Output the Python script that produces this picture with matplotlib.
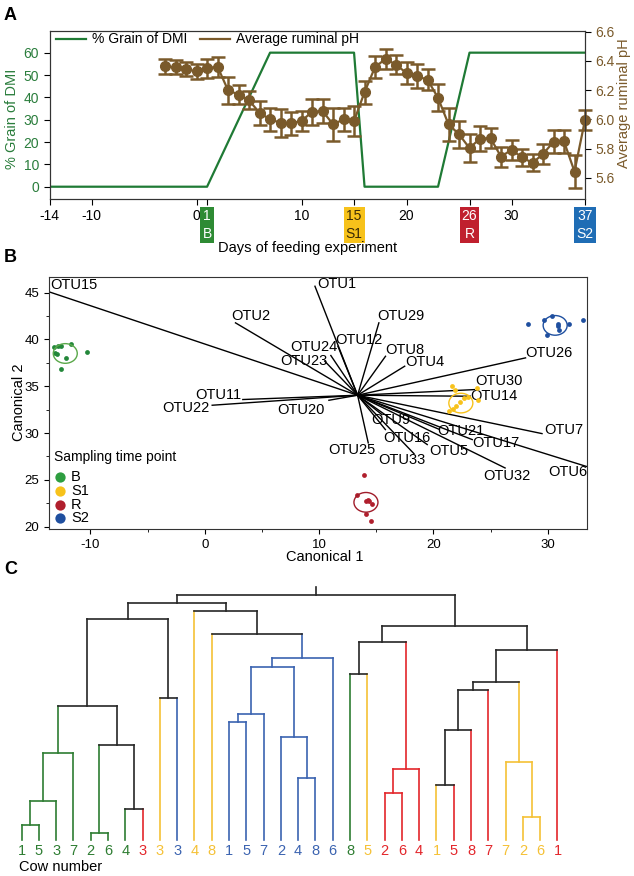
import matplotlib
matplotlib.use('Agg')
import matplotlib.pyplot as plt
from matplotlib.patches import Ellipse
from matplotlib.lines import Line2D
from matplotlib.transforms import blended_transform_factory
from matplotlib.ticker import MultipleLocator

plt.rcParams['font.family'] = ['Liberation Sans', 'DejaVu Sans']
plt.rcParams['axes.unicode_minus'] = False

# ---------------- panel A data ----------------
grain_days = [-14, 1, 7, 15, 16, 23, 26, 37]
grain_pct = [0, 0, 60, 60, 0, 0, 60, 60]
ph_days = list(range(-3, 38))
ph_mean = [6.362, 6.356, 6.344, 6.328, 6.351, 6.360, 6.199, 6.170, 6.130, 6.045,
           6.000, 5.977, 5.973, 5.989, 6.052, 6.057, 5.966, 6.000, 5.989, 6.186,
           6.358, 6.414, 6.374, 6.317, 6.295, 6.272, 6.147, 5.966, 5.898, 5.803,
           5.869, 5.871, 5.745, 5.792, 5.740, 5.702, 5.763, 5.846, 5.849, 5.643,
           5.996]
ph_err = [0.050, 0.048, 0.050, 0.050, 0.065, 0.070, 0.094, 0.065, 0.062, 0.081,
          0.079, 0.096, 0.079, 0.068, 0.090, 0.084, 0.113, 0.081, 0.104, 0.078,
          0.073, 0.066, 0.066, 0.073, 0.081, 0.070, 0.093, 0.115, 0.093, 0.096,
          0.088, 0.070, 0.068, 0.068, 0.059, 0.058, 0.066, 0.079, 0.076, 0.114,
          0.068]
sample_days = [1, 15, 26, 37]
sample_names = ['B', 'S1', 'R', 'S2']
box_colors = ['#2e8b34', '#f7c21b', '#c0202e', '#1f6db5']
box_text = ['white', '#3b2b05', 'white', 'white']

# ---------------- panel B data ----------------
groups = ['B', 'S1', 'R', 'S2']
grp_colors = {'B': '#23873a', 'S1': '#f7c21b', 'R': '#b01f2d', 'S2': '#1f4f9f'}
ring_colors = {'B': '#5aa84a', 'S1': '#f7c21b', 'R': '#a01c2a', 'S2': '#1f50a0'}
pts_x = {'B': [-13.2, -12.8, -12.6, -11.7, -13.1, -12.9, -12.1, -10.3, -12.6],
         'S1': [21.6, 21.9, 23.8, 23.9, 22.3, 22.0, 21.7, 21.4, 22.7, 23.0],
         'R': [13.9, 13.3, 14.1, 14.4, 14.6, 14.1, 14.5, 14.3],
         'S2': [28.3, 29.7, 30.4, 30.9, 31.0, 31.9, 33.1, 29.9, 30.9]}
pts_y = {'B': [39.2, 39.3, 39.3, 39.5, 38.5, 38.4, 38.0, 38.7, 36.8],
         'S1': [35.0, 34.6, 34.8, 33.5, 33.3, 32.9, 32.6, 32.4, 33.7, 33.9],
         'R': [25.5, 23.4, 22.7, 22.7, 22.4, 21.3, 20.6, 22.8],
         'S2': [41.7, 42.1, 42.5, 41.4, 41.05, 41.7, 42.05, 40.5, 41.6]}
ring_center = {'B': (-12.2, 38.5), 'S1': (22.4, 33.2), 'R': (14.1, 22.6), 'S2': (30.65, 41.5)}

origin = (13.37, 34.04)
otu_names = ['OTU15', 'OTU1', 'OTU2', 'OTU29', 'OTU12', 'OTU24', 'OTU23', 'OTU8', 'OTU4',
             'OTU26', 'OTU30', 'OTU14', 'OTU11', 'OTU22', 'OTU20', 'OTU9', 'OTU16', 'OTU33',
             'OTU25', 'OTU5', 'OTU21', 'OTU17', 'OTU32', 'OTU6', 'OTU7']
otu_x = [-13.9, 9.64, 2.69, 15.23, 11.65, 11.03, 10.5, 15.81, 17.49,
         28.06, 23.58, 23.23, 3.33, 0.65, 10.86, 15.5, 15.8, 18.3,
         14.3, 19.46, 20.5, 23.4, 26.27, 33.6, 29.5]
otu_y = [45.2, 45.68, 41.77, 41.77, 39.27, 38.28, 37.67, 38.2, 37.14,
         38.03, 34.64, 33.93, 33.58, 32.97, 33.5, 31.97, 30.37, 27.8,
         28.95, 28.77, 30.4, 29.3, 26.27, 26.35, 29.94]
label_x = [-13.5, 9.86, 2.33, 15.09, 11.4, 7.46, 6.63, 15.81, 17.56,
           28.06, 23.69, 23.23, 3.23, 0.39, 6.38, 14.55, 15.59, 15.16,
           10.79, 19.64, 20.36, 23.4, 24.4, 30.03, 29.68]
label_y = [45.86, 45.93, 42.48, 42.55, 39.9, 39.15, 37.7, 38.92, 37.56,
           38.56, 35.55, 33.95, 34.1, 32.69, 32.5, 31.37, 29.48, 27.09,
           28.16, 28.06, 30.19, 28.95, 25.4, 25.85, 30.3]
label_ha = ['left'] * 12 + ['right', 'right'] + ['left'] * 11

# ---------------- panel C data ----------------
cow = [1, 5, 3, 7, 2, 6, 4, 3, 3, 3, 4, 8, 1, 5, 7, 2, 4, 8, 6, 8, 5, 2, 6, 4, 1, 5, 8, 7, 7, 2, 6, 1]
leaf_grp = ['B', 'B', 'B', 'B', 'B', 'B', 'B', 'R', 'S1', 'S2', 'S1', 'S1', 'S2', 'S2', 'S2', 'S2',
            'S2', 'S2', 'S2', 'B', 'S1', 'R', 'R', 'R', 'S1', 'R', 'R', 'R', 'S1', 'S1', 'S1', 'R']
# (left node, right node, height, colour); nodes >= 32 are earlier merges
merges = [(0, 1, 45, 'B'), (32, 2, 117, 'B'), (33, 3, 260, 'B'), (4, 5, 22, 'B'),
          (6, 7, 93, 'k'), (35, 36, 284, 'k'), (34, 37, 402, 'k'), (8, 9, 427, 'k'),
          (38, 39, 664, 'k'), (12, 13, 354, 'S2'), (41, 14, 378, 'S2'), (16, 17, 187, 'S2'),
          (15, 43, 308, 'S2'), (42, 44, 520, 'S2'), (45, 18, 545, 'S2'), (11, 46, 618, 'k'),
          (10, 47, 688, 'k'), (40, 48, 712, 'k'), (19, 20, 497, 'k'), (21, 22, 142, 'R'),
          (51, 23, 212, 'R'), (50, 52, 593, 'k'), (24, 25, 165, 'k'), (54, 26, 330, 'k'),
          (55, 27, 450, 'k'), (29, 30, 69, 'S1'), (28, 57, 235, 'S1'), (56, 58, 474, 'k'),
          (59, 31, 569, 'k'), (53, 60, 641, 'k'), (49, 61, 736, 'k')]
root_top = 760
tree_colors = {'B': '#2e7d32', 'S1': '#f5c136', 'R': '#e3262b', 'S2': '#3b63b0', 'k': '#262626'}

green = '#1f7a35'
brown = '#7a5a2b'

fig = plt.figure(figsize=(6.34, 8.76), dpi=100)

# ================= A =================
ax1 = fig.add_axes([49.6 / 634, 1 - 199 / 876, 535.4 / 634, 168 / 876])
gl, = ax1.plot(grain_days, grain_pct, color=green, lw=1.6)
ax1.set_xlim(-14, 37)
ax1.set_ylim(-5.5, 69.7)
ax1.set_yticks([0, 10, 20, 30, 40, 50, 60])
ax1.tick_params(axis='y', labelcolor='#2a7d3c', labelsize=10, direction='out', length=4)
ax1.set_xticks([-14, -10, 0, 1, 10, 15, 20, 26, 30, 37])
ax1.set_xticklabels(['-14', '-10', '0', '', '10', '', '20', '', '30', ''])
ax1.tick_params(axis='x', labelsize=10, direction='out', length=4)

ax2 = ax1.twinx()
ax2.errorbar(ph_days, ph_mean, yerr=ph_err, fmt='-o', color=brown, ms=7, lw=1.6,
             elinewidth=1.8, capsize=5, capthick=1.8, clip_on=False)
ax2.set_ylim(5.455, 6.605)
ax2.set_yticks([5.6, 5.8, 6.0, 6.2, 6.4, 6.6])
ax2.tick_params(axis='y', labelcolor=brown, labelsize=10, direction='out', length=4)
for a in (ax1, ax2):
    for s in a.spines.values():
        s.set_color('#333333')

ax2.legend([gl, Line2D([], [], color=brown, lw=1.6)], ['% Grain of DMI', 'Average ruminal pH'],
           loc='upper left', bbox_to_anchor=(0.004, 1.016), ncol=2, frameon=False, fontsize=10,
           handlelength=2.2, handletextpad=0.4, columnspacing=0.9, borderpad=0.3, borderaxespad=0)

trans = blended_transform_factory(ax1.transData, ax1.transAxes)
for d, nm, bc, tc in zip(sample_days, sample_names, box_colors, box_text):
    ax1.text(d, -0.058, f'{d}\n{nm}', transform=trans, ha='center', va='top', fontsize=10,
             color=tc, linespacing=1.35,
             bbox=dict(boxstyle='square,pad=0.15', fc=bc, ec='none'))

fig.text(308 / 634, 1 - 248 / 876, 'Days of feeding experiment', ha='center', va='center', fontsize=10.5)
fig.text(12 / 634, 1 - 119 / 876, '% Grain of DMI', rotation=90, ha='center', va='center',
         fontsize=10.5, color='#2a7d3c')
fig.text(624 / 634, 1 - 103 / 876, 'Average ruminal pH', rotation=90, ha='center', va='center',
         fontsize=10.5, color=brown)

# ================= B =================
axb = fig.add_axes([48.8 / 634, 1 - 529 / 876, 537.8 / 634, 252.3 / 876])
axb.set_xlim(-13.64, 33.4)
axb.set_ylim(19.75, 46.7)
for nm, ex, ey, lx, ly, ha in zip(otu_names, otu_x, otu_y, label_x, label_y, label_ha):
    axb.plot([origin[0], ex], [origin[1], ey], color='black', lw=1.0)
    axb.text(lx, ly, nm, ha=ha, va='center', fontsize=10.5)
for g in groups:
    axb.scatter(pts_x[g], pts_y[g], s=12, color=grp_colors[g], zorder=3, linewidths=0)
    axb.add_patch(Ellipse(ring_center[g], 2.1, 2.1, fill=False, ec=ring_colors[g], lw=1.0, zorder=3))
axb.set_xticks([-10, 0, 10, 20, 30])
axb.set_yticks([20, 25, 30, 35, 40, 45])
axb.xaxis.set_minor_locator(MultipleLocator(5))
axb.yaxis.set_minor_locator(MultipleLocator(2.5))
axb.tick_params(which='major', labelsize=9.5, direction='out', length=3.5)
axb.tick_params(which='minor', direction='out', length=2)
for s in axb.spines.values():
    s.set_color('#333333')

axb.text(0.0097, 0.2866, 'Sampling time point', transform=axb.transAxes, ha='left', va='center', fontsize=10)
leg_y = [0.2073, 0.1518, 0.0963, 0.0424]
for g, yy in zip(groups, leg_y):
    axb.scatter([0.0205], [yy], s=55, color=grp_colors[g] if g != 'B' else '#2e9e40',
                transform=axb.transAxes, linewidths=0, clip_on=False)
    axb.text(0.0413, yy, g, transform=axb.transAxes, ha='left', va='center', fontsize=10.5)

fig.text(18.6 / 634, 1 - 402.5 / 876, 'Canonical 2', rotation=90, ha='center', va='center', fontsize=10.5)
fig.text(325 / 634, 1 - 556.7 / 876, 'Canonical 1', ha='center', va='center', fontsize=10.5)

# ================= C =================
axc = fig.add_axes([0, 0, 1, 296 / 876])
axc.set_xlim(-21.5 / 17.29, (634 - 21.5) / 17.29)
axc.set_ylim(-108, 780)
axc.axis('off')
n = len(cow)
pos = {i: float(i) for i in range(n)}
top = {i: 0.0 for i in range(n)}
col = {i: tree_colors[leaf_grp[i]] for i in range(n)}
for k, (a, b, h, c) in enumerate(merges):
    node = n + k
    cc = tree_colors[c]
    axc.plot([pos[a], pos[a]], [top[a], h], color=col[a], lw=1.2, solid_capstyle='projecting')
    axc.plot([pos[b], pos[b]], [top[b], h], color=col[b], lw=1.2, solid_capstyle='projecting')
    axc.plot([pos[a], pos[b]], [h, h], color=cc, lw=1.2, solid_capstyle='projecting')
    pos[node] = (pos[a] + pos[b]) / 2
    top[node] = h
    col[node] = cc
root = n + len(merges) - 1
axc.plot([pos[root], pos[root]], [top[root], root_top], color=tree_colors['k'], lw=1.2)
for i in range(n):
    axc.text(i, -32, str(cow[i]), ha='center', va='center', fontsize=10.5, color=tree_colors[leaf_grp[i]])
axc.text(-0.145, -80, 'Cow number', ha='left', va='center', fontsize=10.5)

fig.text(4 / 634, 1 - 15 / 876, 'A', ha='left', va='center', fontsize=13, fontweight='bold')
fig.text(4 / 634, 1 - 257 / 876, 'B', ha='left', va='center', fontsize=13, fontweight='bold')
fig.text(4 / 634, 1 - 570 / 876, 'C', ha='left', va='center', fontsize=13, fontweight='bold')

fig.savefig('out.png', dpi=100)
